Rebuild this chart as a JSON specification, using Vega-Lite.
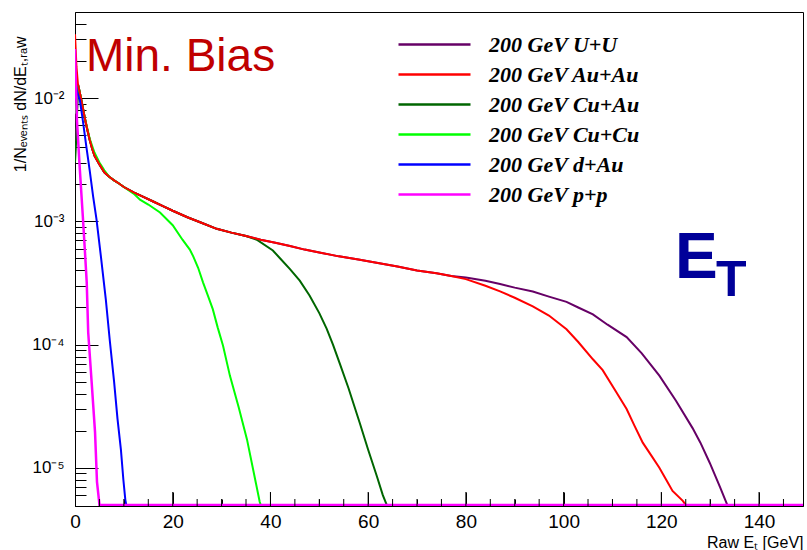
{
  "$schema": "https://vega.github.io/schema/vega-lite/v6.json",
  "width": 728,
  "height": 494,
  "autosize": {"type": "none"},
  "padding": {"left": 75, "top": 12, "right": 4, "bottom": 44},
  "config": {
    "view": {"stroke": "black", "strokeWidth": 1},
    "font": "Liberation Sans",
    "axis": {"grid": false, "ticks": true, "domainColor": "black", "tickColor": "black", "labelColor": "black", "titleColor": "black", "labelFont": "Liberation Sans", "titleFont": "Liberation Sans", "titleFontWeight": "normal"}
  },
  "layer": [
    {
      "data": {
        "values": [
          {"s": "200 GeV U+U", "E": 0, "v": 0.0045},
          {"s": "200 GeV U+U", "E": 0.3, "v": 0.006},
          {"s": "200 GeV U+U", "E": 0.6, "v": 0.013},
          {"s": "200 GeV U+U", "E": 1, "v": 0.011},
          {"s": "200 GeV U+U", "E": 1.5, "v": 0.0088},
          {"s": "200 GeV U+U", "E": 2, "v": 0.0069},
          {"s": "200 GeV U+U", "E": 2.5, "v": 0.0056},
          {"s": "200 GeV U+U", "E": 3, "v": 0.0046},
          {"s": "200 GeV U+U", "E": 3.5, "v": 0.0039},
          {"s": "200 GeV U+U", "E": 4, "v": 0.0034},
          {"s": "200 GeV U+U", "E": 5, "v": 0.0029},
          {"s": "200 GeV U+U", "E": 6, "v": 0.0025},
          {"s": "200 GeV U+U", "E": 7, "v": 0.0023},
          {"s": "200 GeV U+U", "E": 8, "v": 0.00215},
          {"s": "200 GeV U+U", "E": 9, "v": 0.00203},
          {"s": "200 GeV U+U", "E": 10, "v": 0.0019},
          {"s": "200 GeV U+U", "E": 12, "v": 0.00172},
          {"s": "200 GeV U+U", "E": 14, "v": 0.00158},
          {"s": "200 GeV U+U", "E": 16, "v": 0.00145},
          {"s": "200 GeV U+U", "E": 18, "v": 0.00133},
          {"s": "200 GeV U+U", "E": 20, "v": 0.00122},
          {"s": "200 GeV U+U", "E": 23, "v": 0.00108},
          {"s": "200 GeV U+U", "E": 26, "v": 0.00097},
          {"s": "200 GeV U+U", "E": 29, "v": 0.00087},
          {"s": "200 GeV U+U", "E": 32, "v": 0.00081},
          {"s": "200 GeV U+U", "E": 35, "v": 0.00076},
          {"s": "200 GeV U+U", "E": 38, "v": 0.00071},
          {"s": "200 GeV U+U", "E": 41, "v": 0.00067},
          {"s": "200 GeV U+U", "E": 44, "v": 0.00063},
          {"s": "200 GeV U+U", "E": 47, "v": 0.00059},
          {"s": "200 GeV U+U", "E": 50, "v": 0.00056},
          {"s": "200 GeV U+U", "E": 54, "v": 0.00052},
          {"s": "200 GeV U+U", "E": 58, "v": 0.00049},
          {"s": "200 GeV U+U", "E": 62, "v": 0.00046},
          {"s": "200 GeV U+U", "E": 66, "v": 0.00043},
          {"s": "200 GeV U+U", "E": 70, "v": 0.0004},
          {"s": "200 GeV U+U", "E": 74, "v": 0.00038},
          {"s": "200 GeV U+U", "E": 77, "v": 0.00036},
          {"s": "200 GeV U+U", "E": 80, "v": 0.00035},
          {"s": "200 GeV U+U", "E": 84, "v": 0.00033},
          {"s": "200 GeV U+U", "E": 87, "v": 0.00031},
          {"s": "200 GeV U+U", "E": 90, "v": 0.00029},
          {"s": "200 GeV U+U", "E": 93.7, "v": 0.00027},
          {"s": "200 GeV U+U", "E": 97, "v": 0.000245},
          {"s": "200 GeV U+U", "E": 100.6, "v": 0.000222},
          {"s": "200 GeV U+U", "E": 103, "v": 0.0002},
          {"s": "200 GeV U+U", "E": 106, "v": 0.000176},
          {"s": "200 GeV U+U", "E": 109, "v": 0.000145},
          {"s": "200 GeV U+U", "E": 112.9, "v": 0.000115},
          {"s": "200 GeV U+U", "E": 116, "v": 0.000085},
          {"s": "200 GeV U+U", "E": 119.6, "v": 0.000056},
          {"s": "200 GeV U+U", "E": 123, "v": 0.000035},
          {"s": "200 GeV U+U", "E": 126.4, "v": 0.000021},
          {"s": "200 GeV U+U", "E": 128, "v": 0.000016},
          {"s": "200 GeV U+U", "E": 129.9, "v": 0.000011},
          {"s": "200 GeV U+U", "E": 132, "v": 0.000007},
          {"s": "200 GeV U+U", "E": 133, "v": 0.0000056},
          {"s": "200 GeV U+U", "E": 133.5, "v": 0.000005},

          {"s": "200 GeV Au+Au", "E": 0, "v": 0.033},
          {"s": "200 GeV Au+Au", "E": 0.3, "v": 0.018},
          {"s": "200 GeV Au+Au", "E": 0.6, "v": 0.013},
          {"s": "200 GeV Au+Au", "E": 1, "v": 0.011},
          {"s": "200 GeV Au+Au", "E": 1.5, "v": 0.0088},
          {"s": "200 GeV Au+Au", "E": 2, "v": 0.0069},
          {"s": "200 GeV Au+Au", "E": 2.5, "v": 0.0056},
          {"s": "200 GeV Au+Au", "E": 3, "v": 0.0046},
          {"s": "200 GeV Au+Au", "E": 3.5, "v": 0.0039},
          {"s": "200 GeV Au+Au", "E": 4, "v": 0.0034},
          {"s": "200 GeV Au+Au", "E": 5, "v": 0.0029},
          {"s": "200 GeV Au+Au", "E": 6, "v": 0.0025},
          {"s": "200 GeV Au+Au", "E": 7, "v": 0.0023},
          {"s": "200 GeV Au+Au", "E": 8, "v": 0.00215},
          {"s": "200 GeV Au+Au", "E": 9, "v": 0.00203},
          {"s": "200 GeV Au+Au", "E": 10, "v": 0.0019},
          {"s": "200 GeV Au+Au", "E": 12, "v": 0.00172},
          {"s": "200 GeV Au+Au", "E": 14, "v": 0.00158},
          {"s": "200 GeV Au+Au", "E": 16, "v": 0.00145},
          {"s": "200 GeV Au+Au", "E": 18, "v": 0.00133},
          {"s": "200 GeV Au+Au", "E": 20, "v": 0.00122},
          {"s": "200 GeV Au+Au", "E": 23, "v": 0.00108},
          {"s": "200 GeV Au+Au", "E": 26, "v": 0.00097},
          {"s": "200 GeV Au+Au", "E": 29, "v": 0.00087},
          {"s": "200 GeV Au+Au", "E": 32, "v": 0.00081},
          {"s": "200 GeV Au+Au", "E": 35, "v": 0.00076},
          {"s": "200 GeV Au+Au", "E": 38, "v": 0.00071},
          {"s": "200 GeV Au+Au", "E": 41, "v": 0.00067},
          {"s": "200 GeV Au+Au", "E": 44, "v": 0.00063},
          {"s": "200 GeV Au+Au", "E": 47, "v": 0.00059},
          {"s": "200 GeV Au+Au", "E": 50, "v": 0.00056},
          {"s": "200 GeV Au+Au", "E": 54, "v": 0.00052},
          {"s": "200 GeV Au+Au", "E": 58, "v": 0.00049},
          {"s": "200 GeV Au+Au", "E": 62, "v": 0.00046},
          {"s": "200 GeV Au+Au", "E": 66, "v": 0.00043},
          {"s": "200 GeV Au+Au", "E": 70, "v": 0.0004},
          {"s": "200 GeV Au+Au", "E": 74, "v": 0.00038},
          {"s": "200 GeV Au+Au", "E": 77, "v": 0.00036},
          {"s": "200 GeV Au+Au", "E": 80, "v": 0.00034},
          {"s": "200 GeV Au+Au", "E": 84, "v": 0.0003},
          {"s": "200 GeV Au+Au", "E": 87, "v": 0.00027},
          {"s": "200 GeV Au+Au", "E": 90, "v": 0.00024},
          {"s": "200 GeV Au+Au", "E": 93.7, "v": 0.000204},
          {"s": "200 GeV Au+Au", "E": 97, "v": 0.000172},
          {"s": "200 GeV Au+Au", "E": 100.6, "v": 0.000133},
          {"s": "200 GeV Au+Au", "E": 103, "v": 0.000105},
          {"s": "200 GeV Au+Au", "E": 106, "v": 0.000076},
          {"s": "200 GeV Au+Au", "E": 108, "v": 0.000062},
          {"s": "200 GeV Au+Au", "E": 110.8, "v": 0.000041},
          {"s": "200 GeV Au+Au", "E": 112.9, "v": 0.00003},
          {"s": "200 GeV Au+Au", "E": 114.5, "v": 0.000022},
          {"s": "200 GeV Au+Au", "E": 116.2, "v": 0.000016},
          {"s": "200 GeV Au+Au", "E": 118, "v": 0.0000125},
          {"s": "200 GeV Au+Au", "E": 119.6, "v": 0.00001},
          {"s": "200 GeV Au+Au", "E": 121, "v": 0.000008},
          {"s": "200 GeV Au+Au", "E": 122.3, "v": 0.0000065},
          {"s": "200 GeV Au+Au", "E": 124.4, "v": 0.0000054},
          {"s": "200 GeV Au+Au", "E": 125, "v": 0.000005},

          {"s": "200 GeV Cu+Au", "E": 0, "v": 0.003},
          {"s": "200 GeV Cu+Au", "E": 0.3, "v": 0.005},
          {"s": "200 GeV Cu+Au", "E": 0.6, "v": 0.013},
          {"s": "200 GeV Cu+Au", "E": 1, "v": 0.011},
          {"s": "200 GeV Cu+Au", "E": 1.5, "v": 0.0088},
          {"s": "200 GeV Cu+Au", "E": 2, "v": 0.0069},
          {"s": "200 GeV Cu+Au", "E": 2.5, "v": 0.0056},
          {"s": "200 GeV Cu+Au", "E": 3, "v": 0.0046},
          {"s": "200 GeV Cu+Au", "E": 3.5, "v": 0.0039},
          {"s": "200 GeV Cu+Au", "E": 4, "v": 0.0034},
          {"s": "200 GeV Cu+Au", "E": 5, "v": 0.0029},
          {"s": "200 GeV Cu+Au", "E": 6, "v": 0.0025},
          {"s": "200 GeV Cu+Au", "E": 7, "v": 0.0023},
          {"s": "200 GeV Cu+Au", "E": 8, "v": 0.00215},
          {"s": "200 GeV Cu+Au", "E": 9, "v": 0.00203},
          {"s": "200 GeV Cu+Au", "E": 10, "v": 0.0019},
          {"s": "200 GeV Cu+Au", "E": 12, "v": 0.00172},
          {"s": "200 GeV Cu+Au", "E": 14, "v": 0.00158},
          {"s": "200 GeV Cu+Au", "E": 16, "v": 0.00145},
          {"s": "200 GeV Cu+Au", "E": 18, "v": 0.00133},
          {"s": "200 GeV Cu+Au", "E": 20, "v": 0.00122},
          {"s": "200 GeV Cu+Au", "E": 23, "v": 0.00108},
          {"s": "200 GeV Cu+Au", "E": 26, "v": 0.00097},
          {"s": "200 GeV Cu+Au", "E": 29, "v": 0.00087},
          {"s": "200 GeV Cu+Au", "E": 32, "v": 0.00081},
          {"s": "200 GeV Cu+Au", "E": 35, "v": 0.00076},
          {"s": "200 GeV Cu+Au", "E": 37.2, "v": 0.00071},
          {"s": "200 GeV Cu+Au", "E": 40.5, "v": 0.00058},
          {"s": "200 GeV Cu+Au", "E": 42, "v": 0.0005},
          {"s": "200 GeV Cu+Au", "E": 44, "v": 0.00041},
          {"s": "200 GeV Cu+Au", "E": 46, "v": 0.00033},
          {"s": "200 GeV Cu+Au", "E": 48, "v": 0.00025},
          {"s": "200 GeV Cu+Au", "E": 50, "v": 0.00018},
          {"s": "200 GeV Cu+Au", "E": 51.5, "v": 0.000135},
          {"s": "200 GeV Cu+Au", "E": 52.8, "v": 0.0001},
          {"s": "200 GeV Cu+Au", "E": 54.2, "v": 0.00007},
          {"s": "200 GeV Cu+Au", "E": 56, "v": 0.000044},
          {"s": "200 GeV Cu+Au", "E": 58.3, "v": 0.000023},
          {"s": "200 GeV Cu+Au", "E": 60, "v": 0.000014},
          {"s": "200 GeV Cu+Au", "E": 61.8, "v": 0.0000085},
          {"s": "200 GeV Cu+Au", "E": 63, "v": 0.000006},
          {"s": "200 GeV Cu+Au", "E": 63.8, "v": 0.000005},

          {"s": "200 GeV Cu+Cu", "E": 0, "v": 0.0075},
          {"s": "200 GeV Cu+Cu", "E": 0.3, "v": 0.009},
          {"s": "200 GeV Cu+Cu", "E": 0.6, "v": 0.013},
          {"s": "200 GeV Cu+Cu", "E": 1, "v": 0.011},
          {"s": "200 GeV Cu+Cu", "E": 1.5, "v": 0.0088},
          {"s": "200 GeV Cu+Cu", "E": 2, "v": 0.0069},
          {"s": "200 GeV Cu+Cu", "E": 2.5, "v": 0.0057},
          {"s": "200 GeV Cu+Cu", "E": 3, "v": 0.0047},
          {"s": "200 GeV Cu+Cu", "E": 3.5, "v": 0.0041},
          {"s": "200 GeV Cu+Cu", "E": 4, "v": 0.0036},
          {"s": "200 GeV Cu+Cu", "E": 5, "v": 0.003},
          {"s": "200 GeV Cu+Cu", "E": 6, "v": 0.0026},
          {"s": "200 GeV Cu+Cu", "E": 7, "v": 0.0023},
          {"s": "200 GeV Cu+Cu", "E": 8, "v": 0.00215},
          {"s": "200 GeV Cu+Cu", "E": 9, "v": 0.00203},
          {"s": "200 GeV Cu+Cu", "E": 10, "v": 0.0019},
          {"s": "200 GeV Cu+Cu", "E": 12, "v": 0.00168},
          {"s": "200 GeV Cu+Cu", "E": 13.3, "v": 0.0015},
          {"s": "200 GeV Cu+Cu", "E": 15, "v": 0.00137},
          {"s": "200 GeV Cu+Cu", "E": 17.4, "v": 0.00118},
          {"s": "200 GeV Cu+Cu", "E": 20, "v": 0.00093},
          {"s": "200 GeV Cu+Cu", "E": 22, "v": 0.00071},
          {"s": "200 GeV Cu+Cu", "E": 23.5, "v": 0.00059},
          {"s": "200 GeV Cu+Cu", "E": 24.2, "v": 0.00052},
          {"s": "200 GeV Cu+Cu", "E": 25.2, "v": 0.00042},
          {"s": "200 GeV Cu+Cu", "E": 26.2, "v": 0.00032},
          {"s": "200 GeV Cu+Cu", "E": 27.2, "v": 0.00025},
          {"s": "200 GeV Cu+Cu", "E": 28.2, "v": 0.000194},
          {"s": "200 GeV Cu+Cu", "E": 29.2, "v": 0.000138},
          {"s": "200 GeV Cu+Cu", "E": 30.3, "v": 0.000098},
          {"s": "200 GeV Cu+Cu", "E": 31.7, "v": 0.000056},
          {"s": "200 GeV Cu+Cu", "E": 33.5, "v": 0.000031},
          {"s": "200 GeV Cu+Cu", "E": 35.2, "v": 0.000017},
          {"s": "200 GeV Cu+Cu", "E": 36.5, "v": 0.0000095},
          {"s": "200 GeV Cu+Cu", "E": 37.8, "v": 0.0000053},
          {"s": "200 GeV Cu+Cu", "E": 38, "v": 0.000005},

          {"s": "200 GeV d+Au", "E": 0, "v": 0.014},
          {"s": "200 GeV d+Au", "E": 0.5, "v": 0.011},
          {"s": "200 GeV d+Au", "E": 1, "v": 0.0096},
          {"s": "200 GeV d+Au", "E": 1.6, "v": 0.0066},
          {"s": "200 GeV d+Au", "E": 2.3, "v": 0.0041},
          {"s": "200 GeV d+Au", "E": 3, "v": 0.0026},
          {"s": "200 GeV d+Au", "E": 3.7, "v": 0.0016},
          {"s": "200 GeV d+Au", "E": 4.4, "v": 0.00104},
          {"s": "200 GeV d+Au", "E": 5.3, "v": 0.00052},
          {"s": "200 GeV d+Au", "E": 6.3, "v": 0.000234},
          {"s": "200 GeV d+Au", "E": 7.1, "v": 0.00011},
          {"s": "200 GeV d+Au", "E": 8, "v": 0.00005},
          {"s": "200 GeV d+Au", "E": 8.7, "v": 0.000025},
          {"s": "200 GeV d+Au", "E": 9.4, "v": 0.000014},
          {"s": "200 GeV d+Au", "E": 9.9, "v": 0.000008},
          {"s": "200 GeV d+Au", "E": 10.3, "v": 0.0000055},
          {"s": "200 GeV d+Au", "E": 10.5, "v": 0.000005},

          {"s": "200 GeV p+p", "E": 0, "v": 0.025},
          {"s": "200 GeV p+p", "E": 0.2, "v": 0.012},
          {"s": "200 GeV p+p", "E": 0.4, "v": 0.0066},
          {"s": "200 GeV p+p", "E": 1, "v": 0.0026},
          {"s": "200 GeV p+p", "E": 1.6, "v": 0.0011},
          {"s": "200 GeV p+p", "E": 2, "v": 0.0006},
          {"s": "200 GeV p+p", "E": 2.4, "v": 0.00032},
          {"s": "200 GeV p+p", "E": 2.7, "v": 0.000126},
          {"s": "200 GeV p+p", "E": 3.4, "v": 0.00005},
          {"s": "200 GeV p+p", "E": 4.1, "v": 0.0000195},
          {"s": "200 GeV p+p", "E": 4.5, "v": 0.0000077},
          {"s": "200 GeV p+p", "E": 4.9, "v": 0.0000055},
          {"s": "200 GeV p+p", "E": 5, "v": 0.000005},
          {"s": "200 GeV p+p", "E": 149, "v": 0.000005}
        ]
      },
      "encoding": {
        "x": {
          "field": "E", "type": "quantitative",
          "scale": {"domain": [0, 149], "nice": false, "zero": false},
          "axis": {
            "values": [0, 5, 10, 15, 20, 25, 30, 35, 40, 45, 50, 55, 60, 65, 70, 75, 80, 85, 90, 95, 100, 105, 110, 115, 120, 125, 130, 135, 140, 145],
            "labelExpr": "datum.value % 20 == 0 ? datum.value : ''",
            "ticks": true,
            "tickColor": "black",
            "tickWidth": 1,
            "tickSize": {"condition": {"test": "datum.value % 20 == 0", "value": -14}, "value": -7},
            "labelPadding": 20,
            "labelFontSize": 19,
            "labelFlush": false,
            "labelOverlap": false,
            "title": "Raw Eₜ [GeV]",
            "titleFontSize": 16,
            "titleAnchor": "end",
            "titleAlign": "right",
            "titleBaseline": "alphabetic",
            "titleX": 728,
            "titleY": 41
          }
        },
        "y": {
          "field": "v", "type": "quantitative",
          "scale": {"type": "log", "domain": [0.0000049, 0.05], "nice": false},
          "axis": {
            "values": [0.000006, 0.000007, 0.000008, 0.000009, 0.00001, 0.00002, 0.00003, 0.00004, 0.00005, 0.00006, 0.00007, 0.00008, 0.00009, 0.0001, 0.0002, 0.0003, 0.0004, 0.0005, 0.0006, 0.0007, 0.0008, 0.0009, 0.001, 0.002, 0.003, 0.004, 0.005, 0.006, 0.007, 0.008, 0.009, 0.01, 0.02, 0.03, 0.04],
            "labelExpr": "datum.value == 0.01 ? '10⁻²' : datum.value == 0.001 ? '10⁻³' : datum.value == 0.0001 ? '10⁻⁴' : datum.value == 0.00001 ? '10⁻⁵' : ''",
            "ticks": true,
            "tickColor": "black",
            "tickSize": {"condition": {"test": "datum.value == 0.01 || datum.value == 0.001 || datum.value == 0.0001 || datum.value == 0.00001", "value": -23}, "value": -11},
            "labelPadding": 34,
            "labelFontSize": 17,
            "labelFlush": false,
            "labelOverlap": false,
            "title": "1/Nₑᵥₑₙₜₛ dN/dEₜ,ᵣₐw",
            "titleFontSize": 16,
            "titleAngle": 270,
            "titleAnchor": "end",
            "titleAlign": "right",
            "titleBaseline": "middle",
            "titleX": -55,
            "titleY": 24
          }
        },
        "color": {
          "field": "s", "type": "nominal",
          "scale": {
            "domain": ["200 GeV U+U", "200 GeV Au+Au", "200 GeV Cu+Au", "200 GeV Cu+Cu", "200 GeV d+Au", "200 GeV p+p"],
            "range": ["#660066", "#ff0000", "#006600", "#00ff00", "#0000ff", "#ff00ff"]
          },
          "legend": {
            "orient": "none",
            "legendX": 346,
            "legendY": 19,
            "title": null,
            "padding": 0,
            "symbolType": "M-3,0H3",
            "symbolSize": 576,
            "symbolStrokeWidth": 2.5,
            "labelFont": "Liberation Serif",
            "labelFontSize": 22,
            "labelFontStyle": "italic",
            "labelFontWeight": "bold",
            "labelColor": "black",
            "labelOffset": 41,
            "labelLimit": 400,
            "rowPadding": 5
          }
        }
      },
      "layer": [
        {"transform": [{"filter": "datum.s == '200 GeV U+U'"}], "mark": {"type": "line", "strokeWidth": 2, "clip": true}},
        {"transform": [{"filter": "datum.s == '200 GeV Cu+Au'"}], "mark": {"type": "line", "strokeWidth": 2, "clip": true}},
        {"transform": [{"filter": "datum.s == '200 GeV Cu+Cu'"}], "mark": {"type": "line", "strokeWidth": 2, "clip": true}},
        {"transform": [{"filter": "datum.s == '200 GeV Au+Au'"}], "mark": {"type": "line", "strokeWidth": 2, "clip": true}},
        {"transform": [{"filter": "datum.s == '200 GeV d+Au'"}], "mark": {"type": "line", "strokeWidth": 2, "clip": true}},
        {"transform": [{"filter": "datum.s == '200 GeV p+p'"}], "mark": {"type": "line", "strokeWidth": 2.5, "clip": true}}
      ]
    },
    {
      "data": {
        "values": [
          {"E": 0, "k": "major"}, {"E": 5, "k": "minor"}, {"E": 10, "k": "minor"}, {"E": 15, "k": "minor"},
          {"E": 20, "k": "major"}, {"E": 25, "k": "minor"}, {"E": 30, "k": "minor"}, {"E": 35, "k": "minor"},
          {"E": 40, "k": "major"}, {"E": 45, "k": "minor"}, {"E": 50, "k": "minor"}, {"E": 55, "k": "minor"},
          {"E": 60, "k": "major"}, {"E": 65, "k": "minor"}, {"E": 70, "k": "minor"}, {"E": 75, "k": "minor"},
          {"E": 80, "k": "major"}, {"E": 85, "k": "minor"}, {"E": 90, "k": "minor"}, {"E": 95, "k": "minor"},
          {"E": 100, "k": "major"}, {"E": 105, "k": "minor"}, {"E": 110, "k": "minor"}, {"E": 115, "k": "minor"},
          {"E": 120, "k": "major"}, {"E": 125, "k": "minor"}, {"E": 130, "k": "minor"}, {"E": 135, "k": "minor"},
          {"E": 140, "k": "major"}, {"E": 145, "k": "minor"}
        ]
      },
      "mark": {"type": "tick", "orient": "vertical", "color": "black", "opacity": 1, "thickness": 1, "clip": true},
      "encoding": {
        "x": {"field": "E", "type": "quantitative", "scale": {"domain": [0, 149], "nice": false, "zero": false}},
        "y": {"datum": 0.0000049, "type": "quantitative", "scale": {"type": "log", "domain": [0.0000049, 0.05], "nice": false}},
        "size": {"field": "k", "type": "ordinal", "scale": {"domain": ["major", "minor"], "range": [28, 14]}, "legend": null}
      }
    },
    {
      "data": {"values": [{"E": 2.25, "v": 0.0165, "t": "Min. Bias"}]},
      "mark": {"type": "text", "align": "left", "baseline": "alphabetic", "font": "Liberation Sans", "fontSize": 46, "color": "#c00000"},
      "encoding": {
        "x": {"field": "E", "type": "quantitative", "scale": {"domain": [0, 149], "nice": false, "zero": false}},
        "y": {"field": "v", "type": "quantitative", "scale": {"type": "log", "domain": [0.0000049, 0.05], "nice": false}},
        "text": {"field": "t"}
      }
    },
    {
      "data": {"values": [{"E": 122.8, "v": 0.00035, "t": "E"}]},
      "mark": {"type": "text", "align": "left", "baseline": "alphabetic", "font": "Liberation Sans", "fontWeight": "bold", "fontSize": 64, "color": "#000099"},
      "encoding": {
        "x": {"field": "E", "type": "quantitative", "scale": {"domain": [0, 149], "nice": false, "zero": false}},
        "y": {"field": "v", "type": "quantitative", "scale": {"type": "log", "domain": [0.0000049, 0.05], "nice": false}},
        "text": {"field": "t"}
      }
    },
    {
      "data": {"values": [{"E": 131.2, "v": 0.00025, "t": "T"}]},
      "mark": {"type": "text", "align": "left", "baseline": "alphabetic", "font": "Liberation Sans", "fontWeight": "bold", "fontSize": 50, "color": "#000099"},
      "encoding": {
        "x": {"field": "E", "type": "quantitative", "scale": {"domain": [0, 149], "nice": false, "zero": false}},
        "y": {"field": "v", "type": "quantitative", "scale": {"type": "log", "domain": [0.0000049, 0.05], "nice": false}},
        "text": {"field": "t"}
      }
    }
  ]
}
